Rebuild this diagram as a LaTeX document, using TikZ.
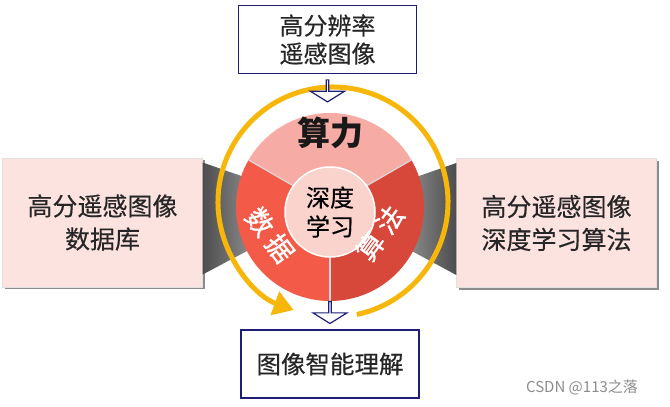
\documentclass[tikz,border=0pt]{standalone}
\usepackage{fontspec}
\setmainfont{Noto Sans CJK SC}
\newfontfamily\midcjk[FakeBold=0.35]{Noto Sans CJK SC}
\newfontfamily\heavycjk[FakeBold=1]{Noto Sans CJK SC}
\usetikzlibrary{shapes.arrows,arrows.meta,calc,shadows}

\definecolor{navyline}{HTML}{1E1E78}
\definecolor{boxpink}{HTML}{FCE3DF}
\definecolor{segtop}{HTML}{F6ACA5}
\definecolor{segleft}{HTML}{F45A48}
\definecolor{segright}{HTML}{D7473A}
\definecolor{corepink}{HTML}{FBD3CD}
\definecolor{ringgold}{HTML}{F7B70A}

\begin{document}
\begin{tikzpicture}[x=1pt, y=1pt,
        inbox/.style={rectangle, draw=navyline, line width=1.6pt, fill=white, align=center, text=black!85, minimum width=178pt, minimum height=68pt},
        sidebox/.style={rectangle, draw=black!12, fill=boxpink, align=center, text=black!85, minimum width=200pt, minimum height=129pt, font=\midcjk\fontsize{25}{33}\selectfont,
            drop shadow={shadow xshift=2.5pt, shadow yshift=-2.5pt, fill=black!45, opacity=1}},
        flowarrow/.style={single arrow, draw=navyline, line width=1.2pt, fill=white, shape border rotate=270, inner sep=0pt,
            minimum width=34pt, single arrow head extend=8pt, single arrow tip angle=116, minimum height=22pt},
        ringline/.style={draw=ringgold, line width=5pt, -{Triangle[length=20pt,width=24pt]}},
        segtext/.style={text=white, inner sep=0pt, font=\heavycjk\fontsize{27}{27}\selectfont}]

        \useasboundingbox (0,0) rectangle (670,407);

        \coordinate (hub) at (330,200);
        \coordinate (ringc) at (333,205);

        % side boxes
        \node[sidebox] (datab) at (102.5,184.5) {高分遥感图像\\数据库};
        \node[sidebox] (algob) at (556.5,184) {高分遥感图像\\深度学习算法};

        % grey funnels behind the wheel
        \shade[left color=black!70, right color=black!5]
            ([yshift=60pt]datab.east) -- (hub) -- ([yshift=-52pt]datab.east) -- cycle;
        \shade[left color=black!5, right color=black!70]
            ([yshift=60pt]algob.west) -- (hub) -- ([yshift=-52pt]algob.west) -- cycle;

        % wheel
        \fill[segtop] (hub) -- ++(30:94) arc[start angle=30, end angle=150, radius=94] -- cycle;
        \fill[segleft] (hub) -- ++(150:94) arc[start angle=150, end angle=270, radius=94] -- cycle;
        \fill[segright] (hub) -- ++(270:94) arc[start angle=270, end angle=390, radius=94] -- cycle;
        \foreach \a in {30,150,270}
            \draw[white!85!black, line width=1.2pt] (hub) -- ++(\a:94);

        \node[circle, fill=corepink, draw=white, line width=1.5pt, minimum size=90pt, inner sep=0pt, align=center,
            font=\midcjk\fontsize{24}{29}\selectfont] (core) at (330,195) {深度\\学习};

        \node[font=\fontsize{33}{33}\selectfont\bfseries, text=black!90] (power) at (330,274) {算力};
        \node[segtext, rotate=-53] (data) at (270,172) {数\hspace{6pt}据};
        \node[segtext, rotate=54] (algo) at (380,174) {算\hspace{6pt}法};

        % ring arrow
        \draw[ringline] ($(ringc)+(-78:115)$) arc[start angle=-78, end angle=250, radius=115];

        % input / output
        \node[inbox, font=\midcjk\fontsize{24}{28}\selectfont] (input) at (327.5,367.5) {高分辨率\\遥感图像};
        \node[inbox, font=\midcjk\fontsize{24.5}{28}\selectfont] (output) at (330,43) {图像智能理解};

        \node[flowarrow, anchor=tail] (inarrow) at ([yshift=-5pt]input.south) {};
        \node[flowarrow, anchor=tip] (outarrow) at ([yshift=5pt]output.north) {};

        \node[text=black!45, font=\fontsize{15}{15}\selectfont] (mark) at (582,20) {CSDN @113之落};
\end{tikzpicture}
\end{document}
